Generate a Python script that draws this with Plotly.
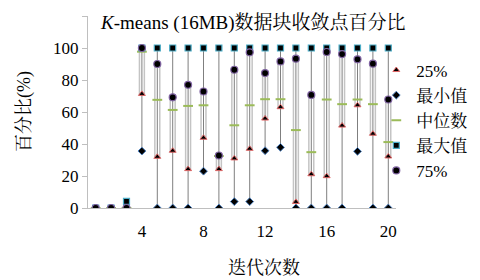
import plotly.graph_objects as go

iters = list(range(1, 21))
q25 = [0, 0, 0, 71.3, 32, 35.8, 24.3, 43.9, 24.3, 31, 37, 55.9, 63, 3.8, 21.1, 19.9, 51.5, 64.2, 46.4, 32.2]
mins = [0, 0, 0, 35.6, 0, 0, 0, 23, 0, 4, 4, 35.8, 37.9, 0, 0, 0, 0, 35.4, 0, 0]
median = [0, 0, 0, 97.7, 67.6, 61.3, 63.8, 64.2, 32.5, 51.7, 64.2, 68, 68, 48.7, 34.9, 67.8, 64.9, 67.8, 64.9, 41.2]
maxs = [0, 0, 4.2, 100, 100, 100, 100, 100, 100, 100, 100, 100, 100, 100, 100, 100, 100, 100, 100, 100]
q75 = [0, 0, 0, 100, 90, 69.2, 77, 72.8, 32.8, 86.4, 97.3, 84.3, 91.6, 93.3, 70.7, 97.5, 96.2, 92.9, 90.2, 67.8]

FONT = "Liberation Serif, Times New Roman, Noto Serif CJK SC, Noto Sans CJK SC, serif"
AXC = "#bfbfbf"

# high-low lines built from the data
hx, hy = [], []
for xi, lo, hi in zip(iters, mins, maxs):
    hx += [xi, xi, None]
    hy += [lo, hi, None]

fig = go.Figure()
fig.add_trace(go.Scatter(x=hx, y=hy, mode="lines", line=dict(color="#7f7f7f", width=1),
                         showlegend=False, hoverinfo="skip"))
fig.add_trace(go.Bar(x=iters, base=q25, y=[b - a for a, b in zip(q25, q75)], width=0.32,
                     marker=dict(color="white", line=dict(color="#c4c4c4", width=1.5)),
                     showlegend=False, hoverinfo="skip"))

fig.add_trace(go.Scatter(x=iters, y=q25, mode="markers", name="25%",
                         marker=dict(symbol="triangle-up", size=6, color="black",
                                     line=dict(color="#e06666", width=1))))
fig.add_trace(go.Scatter(x=iters, y=mins, mode="markers", name="最小值",
                         marker=dict(symbol="diamond", size=6, color="black",
                                     line=dict(color="#4f81bd", width=1))))
fig.add_trace(go.Scatter(x=iters, y=median, mode="markers", name="中位数",
                         marker=dict(symbol="line-ew", size=7, color="#9bbb59",
                                     line=dict(color="#9bbb59", width=2))))
fig.add_trace(go.Scatter(x=iters, y=maxs, mode="markers", name="最大值",
                         marker=dict(symbol="square", size=6, color="black",
                                     line=dict(color="#4bacc6", width=1.2))))
fig.add_trace(go.Scatter(x=iters, y=q75, mode="markers", name="75%",
                         marker=dict(symbol="circle", size=7, color="black",
                                     line=dict(color="#8064a2", width=1.2))))

# the page body keeps its default 8px margin, so the figure is sized/offset to fill the view
fig.update_layout(
    width=472, height=272,
    margin=dict(l=80, r=80, t=8, b=72),
    paper_bgcolor="white", plot_bgcolor="white",
    font=dict(family=FONT, size=17, color="black"),
    barmode="overlay",
    showlegend=True,
    legend=dict(x=0.936, y=0.81, xanchor="left", yanchor="top",
                font=dict(size=17), bgcolor="rgba(0,0,0,0)", tracegroupgap=0),
    xaxis=dict(range=[0.5, 20.5], tick0=0, dtick=4, showgrid=False, zeroline=False,
               showline=True, linecolor=AXC, linewidth=1,
               ticks="outside", ticklen=8, tickcolor="rgba(0,0,0,0)",
               tickfont=dict(size=17)),
    yaxis=dict(range=[0, 120], dtick=20, showgrid=False, zeroline=False,
               showline=True, linecolor=AXC, linewidth=1,
               ticks="outside", ticklen=5, tickcolor=AXC,
               tickfont=dict(size=17)),
    annotations=[
        dict(text="<i>K</i>-means (16MB)数据块收敛点百分比", xref="paper", yref="paper",
             x=0.032, y=0.966, xanchor="left", yanchor="middle", showarrow=False,
             font=dict(size=19)),
        dict(text="迭代次数", xref="paper", yref="paper",
             x=0.573, y=-0.31, xanchor="center", yanchor="middle", showarrow=False,
             font=dict(size=18)),
        dict(text="百分比(%)", xref="paper", yref="paper", textangle=-90,
             x=-0.208, y=0.505, xanchor="center", yanchor="middle", showarrow=False,
             font=dict(size=18)),
    ],
)

fig.write_html("out.html")
